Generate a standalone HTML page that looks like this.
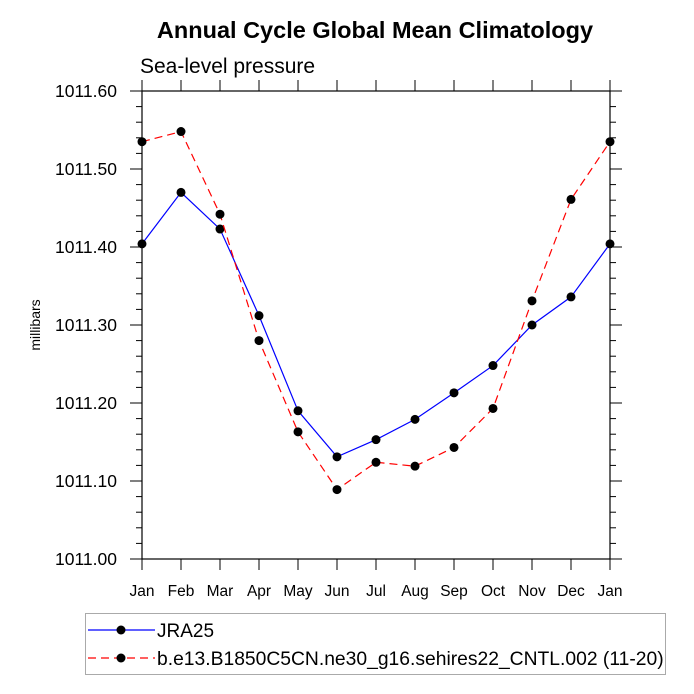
<!DOCTYPE html>
<html><head><meta charset="utf-8"><style>
body{margin:0;background:#fff;}
svg{display:block;font-family:"Liberation Sans",Helvetica,Arial,sans-serif;}
</style></head><body>
<svg id="chart" width="694" height="694" xmlns="http://www.w3.org/2000/svg">
<rect width="694" height="694" fill="#fff"/>
<text x="375" y="38" text-anchor="middle" font-size="23.5" font-weight="bold">Annual Cycle Global Mean Climatology</text>
<text x="140" y="73" font-size="21">Sea-level pressure</text>
<text transform="translate(40,325) rotate(-90)" text-anchor="middle" font-size="14">millibars</text>
<g id="grid"></g>
<g id="series"></g>
<rect x="85.5" y="613.5" width="580" height="61" fill="none" stroke="#aaa" stroke-width="1"/>
<g>
<line x1="88" y1="630" x2="155" y2="630" stroke="#00f" stroke-width="1.2"/>
<circle cx="121" cy="630" r="4.5" fill="#000"/>
<text x="157" y="637" font-size="19">JRA25</text></g>
<g>
<line x1="88" y1="658" x2="155" y2="658" stroke="#f00" stroke-width="1.2" stroke-dasharray="8,5"/>
<circle cx="121" cy="658" r="4.5" fill="#000"/>
<text x="157" y="665" font-size="19.3">b.e13.B1850C5CN.ne30_g16.sehires22_CNTL.002 (11-20)</text></g>
</svg>
<script>
const months=["Jan","Feb","Mar","Apr","May","Jun","Jul","Aug","Sep","Oct","Nov","Dec","Jan"];
const jra25=[1011.404,1011.470,1011.423,1011.312,1011.190,1011.131,1011.153,1011.179,1011.213,1011.248,1011.300,1011.336,1011.404];
const model=[1011.535,1011.548,1011.442,1011.280,1011.163,1011.089,1011.124,1011.119,1011.143,1011.193,1011.331,1011.461,1011.535];
const yTicks=[1011.00,1011.10,1011.20,1011.30,1011.40,1011.50,1011.60];
const X0=142,X1=610,Y0=559,Y1=91,YMIN=1011.0,YMAX=1011.6;
const xs=i=>X0+(X1-X0)*i/(months.length-1);
const ys=v=>Y0-(v-YMIN)/(YMAX-YMIN)*(Y0-Y1);
const NS="http://www.w3.org/2000/svg";
const g=document.getElementById('grid'),s=document.getElementById('series');
function mk(tag,at,parent){const e=document.createElementNS(NS,tag);for(const k in at)e.setAttribute(k,at[k]);parent.appendChild(e);return e;}
const frame=mk('rect',{x:X0,y:Y1,width:X1-X0,height:Y0-Y1,fill:'none',stroke:'#000','stroke-width':1.2},g);


months.forEach((m,i)=>{const x=xs(i);
 mk('line',{x1:x,y1:Y0,x2:x,y2:Y0+11,stroke:'#000'},g);
 mk('line',{x1:x,y1:Y1,x2:x,y2:Y1-11,stroke:'#000'},g);
 const t=mk('text',{x:x,y:Y0+37,'text-anchor':'middle','font-size':15.5},g);t.textContent=m;
 
 
});
for(let v=YMIN;v<=YMAX+1e-9;v+=0.02){const y=ys(v);const maj=Math.abs(Math.round(v*10)/10-v)<1e-6;const L=maj?12:6;
 mk('line',{x1:X0,y1:y,x2:X0-L,y2:y,stroke:'#000'},g);
 mk('line',{x1:X1,y1:y,x2:X1+L,y2:y,stroke:'#000'},g);}
yTicks.forEach(v=>{const t=mk('text',{x:X0-25,y:ys(v)+6,'text-anchor':'end','font-size':17.5},g);t.textContent=v.toFixed(2);
 
 });
function draw(arr,color,dash,name){
 const p=mk('polyline',{points:arr.map((v,i)=>xs(i)+','+ys(v)).join(' '),fill:'none',stroke:color,'stroke-width':1.2,'stroke-dasharray':dash},s);
 
 
 arr.forEach((v,i)=>{const c=mk('circle',{cx:xs(i),cy:ys(v),r:4.5,fill:'#000'},s);
  
  });
}
draw(jra25,'#00f','none','jra25');
draw(model,'#f00','8,5','model');
</script>
</body></html>
